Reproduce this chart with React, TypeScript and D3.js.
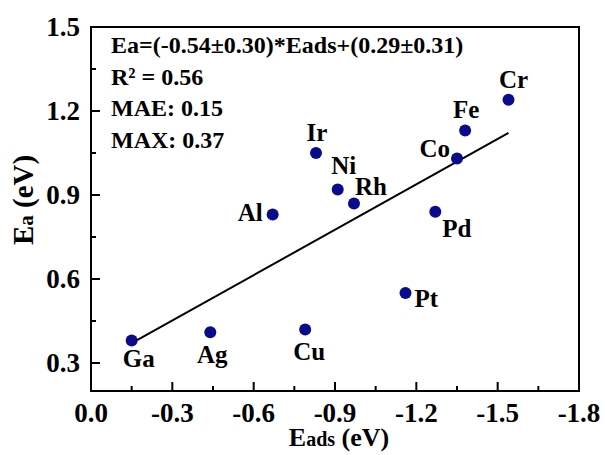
import React from "react";
import * as d3 from "d3";

const metals = ["Ga", "Ag", "Al", "Cu", "Ir", "Ni", "Rh", "Pd", "Pt", "Co", "Fe", "Cr"];
const eads = [-0.15, -0.44, -0.67, -0.79, -0.83, -0.91, -0.97, -1.27, -1.16, -1.35, -1.38, -1.54];
const ea = [0.38, 0.41, 0.83, 0.42, 1.05, 0.92, 0.87, 0.84, 0.55, 1.03, 1.13, 1.24];
// label placement relative to the dot: [dx, dy, anchor]
const labelPos: [number, number, string][] = [
  [7, 26, "middle"], [2, 31, "middle"], [-10, 6, "end"], [4, 31, "middle"],
  [1, -12, "middle"], [6, -15, "middle"], [1, -8, "start"], [7, 25, "start"],
  [9, 14, "start"], [-7, -2, "end"], [1, -13, "middle"], [5, -12, "middle"],
];

const slope = -0.54;
const intercept = 0.29;
const xTicks = [0, -0.3, -0.6, -0.9, -1.2, -1.5, -1.8];
const yTicks = [0.3, 0.6, 0.9, 1.2, 1.5];
const xMinor = [-0.15, -0.45, -0.75, -1.05, -1.35, -1.65];
const yMinor = [0.45, 0.75, 1.05, 1.35];
const notes = ["Ea=(-0.54±0.30)*Eads+(0.29±0.31)", "R² = 0.56", "MAE: 0.15", "MAX: 0.37"];

const W = 605;
const H = 455;
const m = { left: 91, right: 26, top: 27, bottom: 64 };
const font = "'Liberation Serif', 'Times New Roman', serif";

export default function App() {
  const x = d3.scaleLinear().domain([0, -1.8]).range([m.left, W - m.right]);
  const y = d3.scaleLinear().domain([0.2, 1.5]).range([H - m.bottom, m.top]);
  const x0 = d3.min(eads)!;
  const x1 = d3.max(eads)!;
  const fit = d3.line<number>().x(d => x(d)).y(d => y(slope * d + intercept));
  const bottom = H - m.bottom;

  return (
    <svg width={W} height={H} style={{ position: "absolute", left: 0, top: 0, background: "#fff" }}
      fontFamily={font} fontWeight="bold">
      {/* frame */}
      <rect x={m.left} y={m.top} width={W - m.left - m.right} height={bottom - m.top}
        fill="none" stroke="#000" strokeWidth={2} />

      {/* x ticks */}
      {xTicks.map(t => (
        <g key={"x" + t}>
          <line x1={x(t)} x2={x(t)} y1={bottom} y2={bottom - 9} stroke="#000" strokeWidth={2} />
          <text x={x(t)} y={bottom + 31} textAnchor="middle" fontSize={27}>{t === 0 ? "0.0" : t.toFixed(1)}</text>
        </g>
      ))}
      {xMinor.map(t => (
        <line key={"xm" + t} x1={x(t)} x2={x(t)} y1={bottom} y2={bottom - 5} stroke="#000" strokeWidth={2} />
      ))}

      {/* y ticks */}
      {yTicks.map(t => (
        <g key={"y" + t}>
          <line x1={m.left} x2={m.left + 9} y1={y(t)} y2={y(t)} stroke="#000" strokeWidth={2} />
          <text x={m.left - 11} y={y(t) + 9} textAnchor="end" fontSize={27}>{t.toFixed(1)}</text>
        </g>
      ))}
      {yMinor.map(t => (
        <line key={"ym" + t} x1={m.left} x2={m.left + 5} y1={y(t)} y2={y(t)} stroke="#000" strokeWidth={2} />
      ))}

      {/* axis titles */}
      <text x={339} y={446} textAnchor="middle" fontSize={26}>
        E<tspan fontSize={20}>ads</tspan> (eV)
      </text>
      <text transform="translate(33,200) rotate(-90)" textAnchor="middle" fontSize={29}>
        E<tspan fontSize={21}>a</tspan> (eV)
      </text>

      {/* fit line */}
      <path d={fit([x0, x1]) || ""} fill="none" stroke="#000" strokeWidth={2} />

      {/* points */}
      {metals.map((name, i) => (
        <g key={name}>
          <circle cx={x(eads[i])} cy={y(ea[i])} r={6} fill="#0a0a8c" />
          <text x={x(eads[i]) + labelPos[i][0]} y={y(ea[i]) + labelPos[i][1]}
            textAnchor={labelPos[i][2] as any} fontSize={25}>{name}</text>
        </g>
      ))}

      {/* fit statistics */}
      {notes.map((s, i) => (
        <text key={s} x={111} y={53 + i * 31.6} fontSize={24}>{s}</text>
      ))}
    </svg>
  );
}
